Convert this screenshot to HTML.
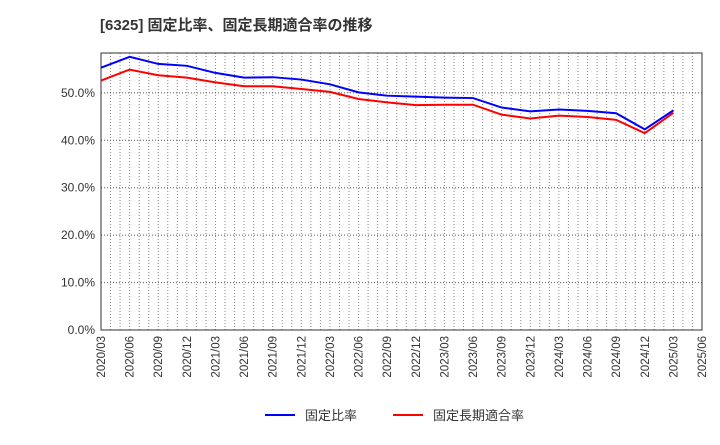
<!DOCTYPE html>
<html><head><meta charset="utf-8"><style>
body{margin:0;background:#fff;font-family:"Liberation Sans","Noto Sans CJK JP",sans-serif;}
</style></head><body>
<svg id="chart" width="720" height="440" xmlns="http://www.w3.org/2000/svg">
<text x="100" y="30" font-size="15" font-weight="bold" fill="#333" font-family="Liberation Sans,Noto Sans CJK JP,sans-serif">[6325]  固定比率、固定長期適合率の推移</text>
<g id="grid"></g><g id="axes"></g><g id="series"></g>
<g>
<line x1="265" y1="415" x2="295" y2="415" stroke="#0000ff" stroke-width="2"/>
<text x="305" y="420" font-size="13" fill="#333">固定比率</text>
<line x1="393" y1="415" x2="423" y2="415" stroke="#ff0000" stroke-width="2"/>
<text x="433" y="420" font-size="13" fill="#333">固定長期適合率</text>
</g>
</svg>
<script>
const categories=["2020/03","2020/06","2020/09","2020/12","2021/03","2021/06","2021/09","2021/12","2022/03","2022/06","2022/09","2022/12","2023/03","2023/06","2023/09","2023/12","2024/03","2024/06","2024/09","2024/12","2025/03","2025/06"];
const fixedRatio=[55.3,57.6,56.1,55.7,54.2,53.2,53.3,52.8,51.8,50.1,49.4,49.2,49.0,48.9,46.9,46.1,46.5,46.2,45.7,42.3,46.3];
const fixedLongTermRatio=[52.6,54.9,53.7,53.2,52.2,51.4,51.4,50.8,50.2,48.7,48.0,47.4,47.5,47.5,45.4,44.6,45.2,44.9,44.3,41.5,45.8];
const yTicks=[0,10,20,30,40,50];
const yMax=58.4;
const L=101,R=702,T=53,B=330;
const ns="http://www.w3.org/2000/svg";
const xs=i=>L+(R-L)*i/(categories.length-1);
const ys=v=>B-(B-T)*v/yMax;
function mk(tag,attrs,parent){const e=document.createElementNS(ns,tag);for(const k in attrs)e.setAttribute(k,attrs[k]);parent.appendChild(e);return e;}
const grid=document.getElementById('grid'),axes=document.getElementById('axes'),ser=document.getElementById('series');
for(let m=1;m<(categories.length-1)*3;m++){
 const x=L+(R-L)*m/((categories.length-1)*3);
 const l=mk('line',{x1:x,y1:T,x2:x,y2:B,stroke:'#888','stroke-width':1,'stroke-dasharray':'1,2'},grid);
 
 
}
yTicks.forEach(v=>{
 const y=ys(v);
 if(v>0){const l=mk('line',{x1:L,y1:y,x2:R,y2:y,stroke:'#555','stroke-width':1,'stroke-dasharray':'1,2'},grid);
 
 }
 const t=mk('text',{x:L-6,y:y+4,'text-anchor':'end','font-size':12,fill:'#333'},axes);
 t.textContent=v.toFixed(1)+'%';
 
 
});
categories.forEach((c,i)=>{
 const x=xs(i);
 const t=mk('text',{x:x+4,y:B+6,'text-anchor':'end','font-size':11.5,fill:'#333',transform:`rotate(-90 ${x+4} ${B+6})`},axes);
 t.textContent=c;
 
 
});
const frame=mk('rect',{x:L,y:T,width:R-L,height:B-T,fill:'none',stroke:'#333','stroke-width':1},axes);


function line(data,color,name){
 const p=mk('polyline',{points:data.map((v,i)=>xs(i)+','+ys(v)).join(' '),fill:'none',stroke:color,'stroke-width':2},ser);
 
 
}
line(fixedLongTermRatio,'#ff0000','fixed-long-term-ratio-line');
line(fixedRatio,'#0000ff','fixed-ratio-line');
</script>
</body></html>
